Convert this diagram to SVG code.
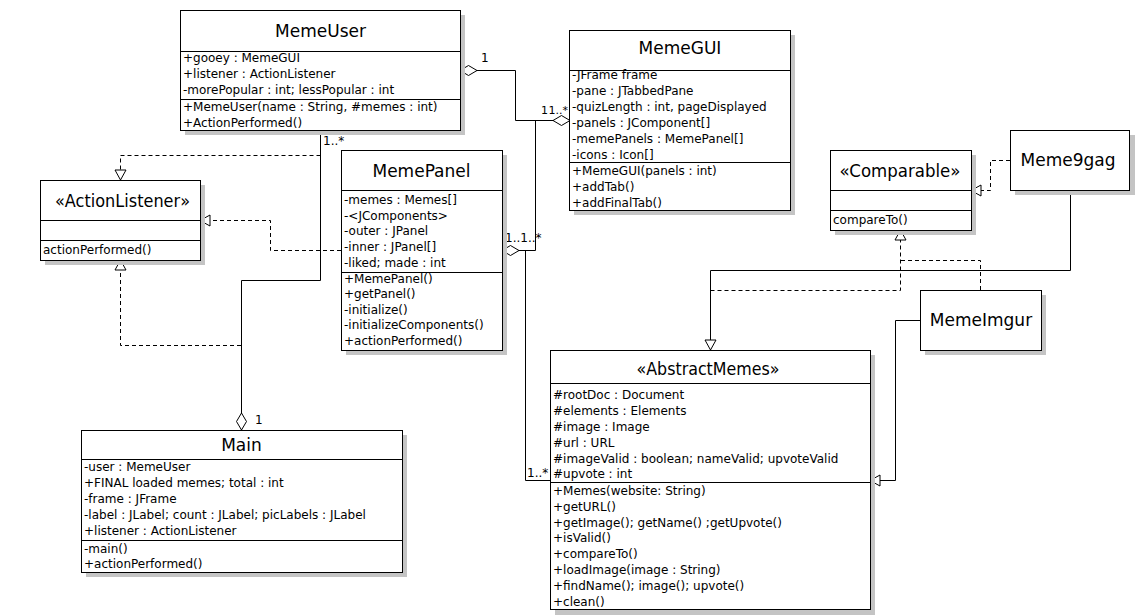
<svg xmlns="http://www.w3.org/2000/svg" width="1135" height="615" viewBox="0 0 1135 615">
<style>
.bg{fill:#fff}
.sh{fill:#c4c4c4}
.box{fill:#fff;stroke:#000;stroke-width:1}
.div{stroke:#000;stroke-width:1;fill:none}
.t{font-family:"DejaVu Sans",sans-serif;font-size:12px;fill:#000}
.ti{font-family:"DejaVu Sans",sans-serif;font-size:17px;fill:#000;text-anchor:middle}
.ln{fill:none;stroke:#000;stroke-width:1}
.dl{fill:none;stroke:#000;stroke-width:1;stroke-dasharray:4 3}
.lb{font-family:"DejaVu Sans",sans-serif;font-size:12px;fill:#000}
.lbs{font-family:"DejaVu Sans",sans-serif;font-size:11px;fill:#000}
</style>
<defs>
<marker id="tri" viewBox="0 0 12 13" refX="11" refY="6.5" markerWidth="12" markerHeight="13" markerUnits="userSpaceOnUse" orient="auto">
<path d="M1,1 L11,6.5 L1,12 Z" fill="#fff" stroke="#000" stroke-width="1"/>
</marker>
<marker id="dia" viewBox="0 0 19 12" refX="1" refY="6" markerWidth="19" markerHeight="12" markerUnits="userSpaceOnUse" orient="auto">
<path d="M1,6 L9.5,1 L18,6 L9.5,11 Z" fill="#fff" stroke="#000" stroke-width="1"/>
</marker>
<marker id="diaE" viewBox="0 0 19 12" refX="18" refY="6" markerWidth="19" markerHeight="12" markerUnits="userSpaceOnUse" orient="auto">
<path d="M1,6 L9.5,1 L18,6 L9.5,11 Z" fill="#fff" stroke="#000" stroke-width="1"/>
</marker>
</defs>
<rect class="bg" x="0" y="0" width="1135" height="615"/>

<g id="connectors">
<path class="ln" d="M460,70.5 H515.5 V120.5 H570" marker-start="url(#dia)" marker-end="url(#diaE)"/>
<path class="ln" d="M502,250.5 H535.5 V120.5"  marker-start="url(#dia)"/>
<path class="ln" d="M519,250.5 H525.5 V480.5 H550"/>
<path class="ln" d="M241.5,430 V280.5 H320.5 V130" marker-start="url(#dia)"/>
<path class="dl" d="M320.5,155.5 H120.5 V180" marker-end="url(#tri)"/>
<path class="dl" d="M341,250.5 H270.5 V220.5 H200" marker-end="url(#tri)"/>
<path class="dl" d="M241,345.5 H120.5 V260" marker-end="url(#tri)"/>
<path class="dl" d="M1010,160.5 H990.5 V190.5 H971" marker-end="url(#tri)"/>
<path class="ln" d="M1070.5,190 V270.5 H710.5 V350" marker-end="url(#tri)"/>
<path class="dl" d="M710.5,290.5 H900.5 V230" marker-end="url(#tri)"/>
<path class="dl" d="M980.5,290 V260.5 H900.5"/>
<path class="ln" d="M920,320.5 H895.5 V480.5 H870" marker-end="url(#tri)"/>
<text class="lb" x="481" y="62">1</text>
<text class="lbs" x="541" y="114">1</text>
<text class="lbs" x="548.5" y="114">1..*</text>
<text class="lb" x="505" y="242">1..1..*</text>
<text class="lb" x="527" y="477">1..*</text>
<text class="lb" x="323" y="145">1..*</text>
<text class="lb" x="255" y="424">1</text>
</g>

<g id="MemeUser">
<rect class="sh" x="185" y="15" width="280" height="120"/>
<rect class="box" x="180.5" y="10.5" width="280" height="120"/>
<path class="div" d="M180.5,51.5 H460.5 M180.5,99.5 H460.5"/>
<text class="ti" x="320.5" y="37">MemeUser</text>
<text class="t" x="183" y="62">+gooey : MemeGUI</text>
<text class="t" x="183" y="78">+listener : ActionListener</text>
<text class="t" x="183" y="94">-morePopular : int; lessPopular : int</text>
<text class="t" x="183" y="111">+MemeUser(name : String, #memes : int)</text>
<text class="t" x="183" y="127">+ActionPerformed()</text>
</g>

<g id="MemeGUI">
<rect class="sh" x="574" y="35" width="221" height="180"/>
<rect class="box" x="569.5" y="30.5" width="221" height="180"/>
<path class="div" d="M569.5,70.5 H790.5 M569.5,162.5 H790.5"/>
<text class="ti" x="680" y="54">MemeGUI</text>
<text class="t" x="572" y="79">-JFrame frame</text>
<text class="t" x="572" y="95">-pane : JTabbedPane</text>
<text class="t" x="572" y="111">-quizLength : int, pageDisplayed</text>
<text class="t" x="572" y="127">-panels : JComponent[]</text>
<text class="t" x="572" y="143">-memePanels : MemePanel[]</text>
<text class="t" x="572" y="159">-icons : Icon[]</text>
<text class="t" x="572" y="175">+MemeGUI(panels : int)</text>
<text class="t" x="572" y="191">+addTab()</text>
<text class="t" x="572" y="207">+addFinalTab()</text>
</g>

<g id="MemePanel">
<rect class="sh" x="346" y="155" width="161" height="200"/>
<rect class="box" x="341.5" y="150.5" width="161" height="200"/>
<path class="div" d="M341.5,190.5 H502.5 M341.5,272.5 H502.5"/>
<text class="ti" x="421.5" y="177">MemePanel</text>
<text class="t" x="344" y="204">-memes : Memes[]</text>
<text class="t" x="344" y="220">-&lt;JComponents&gt;</text>
<text class="t" x="344" y="235">-outer : JPanel</text>
<text class="t" x="344" y="251">-inner : JPanel[]</text>
<text class="t" x="344" y="267">-liked; made : int</text>
<text class="t" x="344" y="283">+MemePanel()</text>
<text class="t" x="344" y="298">+getPanel()</text>
<text class="t" x="344" y="314">-initialize()</text>
<text class="t" x="344" y="329">-initializeComponents()</text>
<text class="t" x="344" y="345">+actionPerformed()</text>
</g>

<g id="ActionListener">
<rect class="sh" x="45" y="185" width="160" height="80"/>
<rect class="box" x="40.5" y="180.5" width="160" height="80"/>
<path class="div" d="M40.5,220.5 H200.5 M40.5,240.5 H200.5"/>
<text class="ti" x="122.5" y="207" textLength="135" lengthAdjust="spacingAndGlyphs">«ActionListener»</text>
<text class="t" x="43" y="254">actionPerformed()</text>
</g>

<g id="Comparable">
<rect class="sh" x="835" y="155" width="141" height="80"/>
<rect class="box" x="830.5" y="150.5" width="141" height="80"/>
<path class="div" d="M830.5,190.5 H971.5 M830.5,210.5 H971.5"/>
<text class="ti" x="900" y="177" textLength="121" lengthAdjust="spacingAndGlyphs">«Comparable»</text>
<text class="t" x="833" y="224">compareTo()</text>
</g>

<g id="Meme9gag">
<rect class="sh" x="1015" y="135" width="120" height="60"/>
<rect class="box" x="1010.5" y="130.5" width="119" height="60"/>
<text class="ti" x="1068" y="166">Meme9gag</text>
</g>

<g id="MemeImgur">
<rect class="sh" x="925" y="295" width="121" height="60"/>
<rect class="box" x="920.5" y="290.5" width="121" height="60"/>
<text class="ti" x="981" y="326">MemeImgur</text>
</g>

<g id="AbstractMemes">
<rect class="sh" x="555" y="355" width="320" height="260"/>
<rect class="box" x="550.5" y="350.5" width="320" height="259"/>
<path class="div" d="M550.5,383.5 H870.5 M550.5,482.5 H870.5"/>
<text class="ti" x="708" y="375" textLength="143" lengthAdjust="spacingAndGlyphs">«AbstractMemes»</text>
<text class="t" x="553" y="399">#rootDoc : Document</text>
<text class="t" x="553" y="415">#elements : Elements</text>
<text class="t" x="553" y="431">#image : Image</text>
<text class="t" x="553" y="447">#url : URL</text>
<text class="t" x="553" y="463">#imageValid : boolean; nameValid; upvoteValid</text>
<text class="t" x="553" y="478">#upvote : int</text>
<text class="t" x="553" y="495">+Memes(website: String)</text>
<text class="t" x="553" y="511">+getURL()</text>
<text class="t" x="553" y="527">+getImage(); getName() ;getUpvote()</text>
<text class="t" x="553" y="542">+isValid()</text>
<text class="t" x="553" y="558">+compareTo()</text>
<text class="t" x="553" y="574">+loadImage(image : String)</text>
<text class="t" x="553" y="590">+findName(); image(); upvote()</text>
<text class="t" x="553" y="606">+clean()</text>
</g>

<g id="Main">
<rect class="sh" x="86" y="435" width="321" height="142"/>
<rect class="box" x="81.5" y="430.5" width="321" height="142"/>
<path class="div" d="M81.5,459.5 H402.5 M81.5,540.5 H402.5"/>
<text class="ti" x="241.5" y="451">Main</text>
<text class="t" x="84" y="471">-user : MemeUser</text>
<text class="t" x="84" y="487">+FINAL loaded memes; total : int</text>
<text class="t" x="84" y="503">-frame : JFrame</text>
<text class="t" x="84" y="519">-label : JLabel; count : JLabel; picLabels : JLabel</text>
<text class="t" x="84" y="535">+listener : ActionListener</text>
<text class="t" x="84" y="553">-main()</text>
<text class="t" x="84" y="568">+actionPerformed()</text>
</g>
</svg>
